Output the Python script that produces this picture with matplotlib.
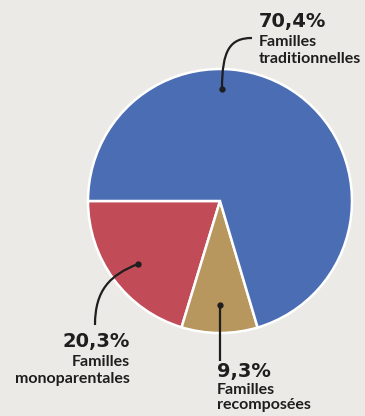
import matplotlib
matplotlib.use("Agg")
import matplotlib.pyplot as plt
from matplotlib.path import Path
from matplotlib.patches import PathPatch

# family types, share of households (%)
labels = ['Familles\nmonoparentales', 'Familles\nrecomposées', 'Familles\ntraditionnelles']
pct_text = ['20,3%', '9,3%', '70,4%']
values = [20.3, 9.3, 70.4]
colors = ['#c14b57', '#b8975e', '#4b6db3']

bg = '#ebeae7'
W, H = 365, 416

fig = plt.figure(figsize=(W / 100, H / 100), dpi=100, facecolor=bg)
ax = fig.add_axes([0, 0, 1, 1])
ax.set_facecolor(bg)

cx, cy, r = 220, H - 201, 132
ax.pie(values, colors=colors, startangle=180, counterclock=True,
       center=(cx, cy), radius=r, frame=True,
       wedgeprops=dict(edgecolor='white', linewidth=1.8))
ax.set_xlim(0, W)
ax.set_ylim(0, H)
ax.set_aspect('equal')
ax.axis('off')

pct_font = ['DejaVu Sans']
lab_font = ['Lato', 'DejaVu Sans']
ink = '#1e1e1e'


def leader(pts):
    # pts in pixel coords (y down), cubic bezier or straight line
    pts = [(x, H - y) for x, y in pts]
    codes = [Path.MOVETO] + [Path.CURVE4] * (len(pts) - 1) if len(pts) == 4 \
        else [Path.MOVETO, Path.LINETO]
    ax.add_patch(PathPatch(Path(pts, codes), fill=False, color=ink, lw=1.6))
    ax.plot(pts[0][0], pts[0][1], 'o', color=ink, ms=3.5)


def label(x, y, pct, lab, ha, gap=19, step=17):
    # y = baseline of the percentage, pixel coords
    ax.text(x, H - y, pct, family=pct_font, weight='bold', fontsize=14,
            color=ink, va='baseline', ha=ha)
    first, second = lab.split('\n')
    ax.text(x, H - y - gap, first, family=lab_font, weight='bold', fontsize=11.5,
            color=ink, va='baseline', ha=ha)
    ax.text(x, H - y - gap - step, second, family=lab_font, weight='bold',
            fontsize=11.5, color=ink, va='baseline', ha=ha)


# traditionnelles
leader([(222, 89), (222, 50), (230, 38), (252, 38)])
label(259, 27, pct_text[2], labels[2], 'left')

# monoparentales
leader([(138, 264), (110, 275), (95, 290), (95, 325)])
label(130, 347, pct_text[0], labels[0], 'right')

# recomposées
leader([(220, 305), (220, 361)])
label(217, 377, pct_text[1], labels[1], 'left', gap=17, step=15)

fig.savefig('out.png', dpi=100, facecolor=bg)
